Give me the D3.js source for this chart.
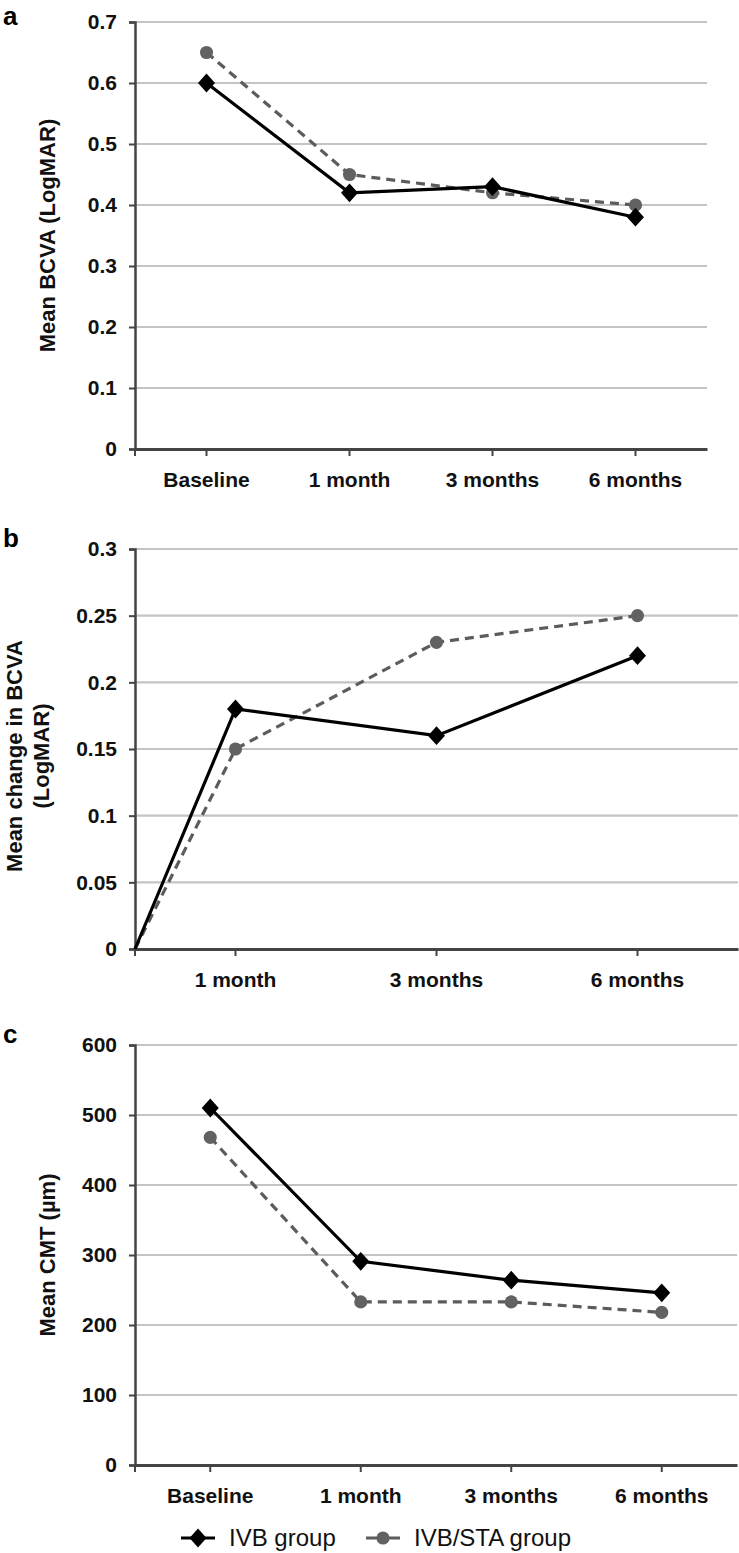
<!DOCTYPE html>
<html>
<head>
<meta charset="utf-8">
<script src="https://cdn.jsdelivr.net/npm/d3@7"></script>
<style>
  body { margin: 0; background: #fff; }
  text { font-family: "Liberation Sans", Arial, sans-serif; font-weight: bold; }
</style>
</head>
<body>
<div id="chart"></div>
<script>
// panel a: mean BCVA
let catsA = ['Baseline', '1 month', '3 months', '6 months'];
let ivbA = [0.60, 0.42, 0.43, 0.38];
let staA = [0.65, 0.45, 0.42, 0.40];
let ticksA = [0, 0.1, 0.2, 0.3, 0.4, 0.5, 0.6, 0.7];

// panel b: mean change in BCVA (both groups start at 0 at baseline)
let catsB = ['1 month', '3 months', '6 months'];
let startB = [0, 0];
let ivbB = [0.18, 0.16, 0.22];
let staB = [0.15, 0.23, 0.25];
let ticksB = [0, 0.05, 0.1, 0.15, 0.2, 0.25, 0.3];
let tickLabelsB = ['0', '0.05', '0.1', '0.15', '0.2', '0.25', '0.3'];

// panel c: mean CMT
let catsC = ['Baseline', '1 month', '3 months', '6 months'];
let ivbC = [510, 291, 264, 246];
let staC = [468, 233, 233, 218];
let ticksC = [0, 100, 200, 300, 400, 500, 600];

let seriesNames = ['IVB group', 'IVB/STA group'];

let W = 739, H = 1553;
let svg = d3.select('#chart').append('svg').attr('width', W).attr('height', H);

let ivbStyle = {stroke: '#000', dash: null, fill: '#000', shape: d3.symbolDiamond};
let staStyle = {stroke: '#5c5c5c', dash: '9,6', fill: '#626262', shape: d3.symbolCircle};

function marker(g, style, x, y) {
    let size = style.shape === d3.symbolDiamond ? 160 : 135;
    g.append('path')
        .attr('d', d3.symbol().type(style.shape).size(size)())
        .attr('transform', style.shape === d3.symbolDiamond
            ? 'translate(' + x + ',' + y + ') scale(1.25,0.8)'
            : 'translate(' + x + ',' + y + ')')
        .attr('fill', style.fill);
}

function drawPanel(opt) {
    let g = svg.append('g');
    let yScale = d3.scaleLinear().domain(opt.yDomain).range([opt.bottom, opt.top]);
    let xScale = d3.scaleBand().domain(opt.cats).range([opt.left, opt.right]);
    let cx = d => xScale(d) + xScale.bandwidth() / 2;

    // grid lines
    g.selectAll('.grid').data(opt.ticks.slice(1)).enter().append('line')
        .attr('x1', opt.left).attr('x2', opt.right)
        .attr('y1', d => yScale(d)).attr('y2', d => yScale(d))
        .attr('stroke', '#c4c4c4').attr('stroke-width', 2.2);

    // y axis
    let yaxis = d3.axisLeft(yScale).tickValues(opt.ticks).tickSize(6).tickPadding(12)
        .tickFormat((d, i) => opt.tickLabels ? opt.tickLabels[i] : String(d));
    let ya = g.append('g').attr('transform', 'translate(' + opt.left + ',0)').call(yaxis);
    ya.select('.domain').attr('stroke', '#444').attr('stroke-width', 2.5);
    ya.selectAll('.tick line').attr('stroke', '#444').attr('stroke-width', 2);
    ya.selectAll('.tick text').attr('fill', '#111').style('font-size', '21px');

    // x axis
    let xaxis = d3.axisBottom(xScale).tickSize(7).tickPadding(16).tickSizeOuter(0);
    let xa = g.append('g').attr('transform', 'translate(0,' + opt.bottom + ')').call(xaxis);
    xa.select('.domain').attr('stroke', '#444').attr('stroke-width', 3);
    xa.selectAll('.tick line').attr('stroke', '#444').attr('stroke-width', 2);
    xa.selectAll('.tick text').attr('fill', '#111').style('font-size', '21px');
    g.append('line').attr('x1', opt.left).attr('x2', opt.left)
        .attr('y1', opt.bottom).attr('y2', opt.bottom + 7)
        .attr('stroke', '#444').attr('stroke-width', 2);

    // series lines + markers
    let series = [[opt.sta, staStyle], [opt.ivb, ivbStyle]];
    series.forEach(([vals, style], si) => {
        let pts = vals.map((v, i) => [cx(opt.cats[i]), yScale(v)]);
        if (opt.start) pts.unshift([opt.left, yScale(opt.start[1 - si])]);
        g.append('path').attr('d', d3.line()(pts))
            .attr('fill', 'none').attr('stroke', style.stroke).attr('stroke-width', 3.2)
            .attr('stroke-dasharray', style.dash);
        vals.forEach((v, i) => marker(g, style, cx(opt.cats[i]), yScale(v)));
    });

    // axis title
    let tx = opt.titleX, ty = opt.titleY || (opt.top + opt.bottom) / 2;
    let title = g.append('text').attr('transform', 'translate(' + tx + ',' + ty + ') rotate(-90)')
        .attr('text-anchor', 'middle').style('font-size', '22px').attr('fill', '#111');
    opt.title.forEach((t, i) => {
        title.append('tspan').attr('x', 0).attr('dy', i === 0 ? (-(opt.title.length - 1) * 13.5 + 8) : 27).text(t);
    });

    // panel letter
    g.append('text').attr('x', 3).attr('y', opt.letterY).style('font-size', '26px')
        .attr('fill', '#000').text(opt.letter);
}

drawPanel({letter: 'a', letterY: 25, cats: catsA, ivb: ivbA, sta: staA, ticks: ticksA,
    yDomain: [0, 0.7], top: 22, bottom: 449, left: 135, right: 707,
    title: ['Mean BCVA (LogMAR)'], titleX: 47});

drawPanel({letter: 'b', letterY: 547, cats: catsB, ivb: ivbB, sta: staB, start: startB,
    ticks: ticksB, tickLabels: tickLabelsB,
    yDomain: [0, 0.3], top: 549, bottom: 949, left: 135, right: 738,
    title: ['Mean change in BCVA', '(LogMAR)'], titleX: 27, titleY: 756});

drawPanel({letter: 'c', letterY: 1043, cats: catsC, ivb: ivbC, sta: staC, ticks: ticksC,
    yDomain: [0, 600], top: 1045, bottom: 1465, left: 135, right: 737,
    title: ['Mean CMT (\u00b5m)'], titleX: 47});

// legend
let legend = svg.append('g').attr('transform', 'translate(0,1538)');
[[ivbStyle, 181, seriesNames[0]], [staStyle, 366, seriesNames[1]]].forEach(([style, x, name]) => {
    legend.append('line').attr('x1', x).attr('x2', x + 34).attr('y1', 0).attr('y2', 0)
        .attr('stroke', style.stroke).attr('stroke-width', 3.2);
    marker(legend, style, x + 17, 0);
    legend.append('text').attr('x', x + 48).attr('y', 8)
        .style('font-size', '24px').style('font-weight', 'normal').attr('fill', '#111').text(name);
});
</script>
</body>
</html>
